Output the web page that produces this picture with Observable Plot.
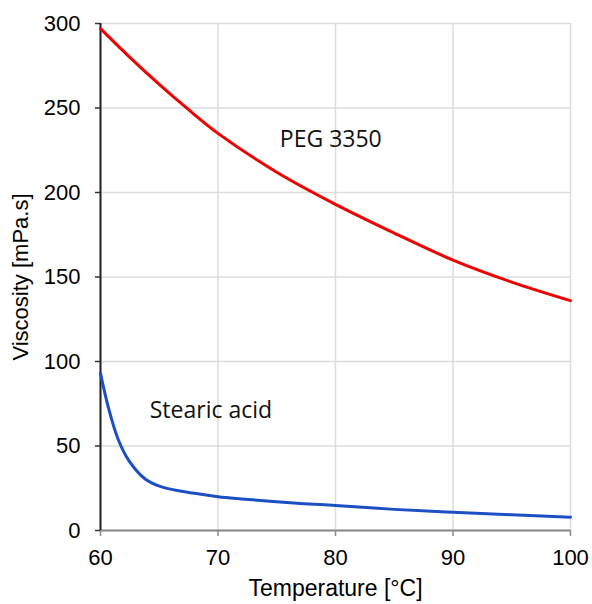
<!DOCTYPE html>
<html><head><meta charset="utf-8">
<script src="https://cdn.jsdelivr.net/npm/d3@7"></script>
<script src="https://cdn.jsdelivr.net/npm/@observablehq/plot@0.6"></script>
<style>body{margin:0;background:#fff}</style>
</head><body><div id="chart"></div>
<script>
const pegTemp = [60, 62.5, 65, 67.5, 70, 75, 80, 85, 90, 95, 100];
const pegVisc = [297, 280, 264, 249, 235, 212, 193, 176, 160, 147, 136];
const saTemp = [60, 60.7, 61.5, 62.4, 63.8, 65.2, 68, 70, 72, 77, 80, 85, 90, 95, 100];
const saVisc = [93, 72, 54, 41.5, 30.5, 25.8, 22, 20, 18.7, 16, 14.8, 12.5, 10.8, 9.3, 7.9];
const xTicks = [60, 70, 80, 90, 100];
const yTicks = [0, 50, 100, 150, 200, 250, 300];
const labels = [
  {t: 79.6, v: 231, text: "PEG 3350"},
  {t: 69.4, v: 71, text: "Stearic acid"}
];
const peg = pegTemp.map((t, i) => ({t, v: pegVisc[i]}));
const sa = saTemp.map((t, i) => ({t, v: saVisc[i]}));

const chart = Plot.plot({
  width: 592, height: 604,
  marginLeft: 100, marginRight: 22, marginTop: 23, marginBottom: 74,
  style: {fontFamily: "'Liberation Sans', Arial, sans-serif", fontSize: "22px", color: "#000", background: "#fff"},
  x: {domain: [60, 100]},
  y: {domain: [0, 300]},
  marks: [
    Plot.gridX(xTicks, {stroke: "#dcdcdc", strokeOpacity: 1, strokeWidth: 1.5}),
    Plot.gridY(yTicks, {stroke: "#dcdcdc", strokeOpacity: 1, strokeWidth: 1.5}),
    Plot.axisX(xTicks, {tickSize: 6, tickPadding: 13, stroke: "#888", strokeWidth: 1.5, fontSize: 22,
      label: null}),
    Plot.axisX({label: "Temperature [°C]", ticks: [], tickSize: 0, labelAnchor: "center", labelArrow: "none", labelOffset: 65, fontSize: 23}),
    Plot.axisY(yTicks, {tickSize: 5, tickPadding: 15, stroke: "#333", strokeWidth: 1.5, fontSize: 22,
      label: null}),
    Plot.axisY({label: "Viscosity [mPa.s]", ticks: [], tickSize: 0, labelAnchor: "center", labelArrow: "none", labelOffset: 88, fontSize: 22}),
    Plot.ruleY([0], {stroke: "#888", strokeWidth: 2}),
    Plot.ruleX([60], {stroke: "#222", strokeWidth: 2}),
    Plot.line(peg, {x: "t", y: "v", stroke: "#f00000", strokeWidth: 3, curve: "catmull-rom"}),
    Plot.line(sa, {x: "t", y: "v", stroke: "#1d4fc4", strokeWidth: 3, curve: "catmull-rom"}),
    Plot.text(labels, {x: "t", y: "v", text: "text", fontFamily: "'Open Sans', sans-serif", fontSize: 23, fill: "#111"})
  ]
});
document.getElementById("chart").appendChild(chart);
</script>
</body></html>
